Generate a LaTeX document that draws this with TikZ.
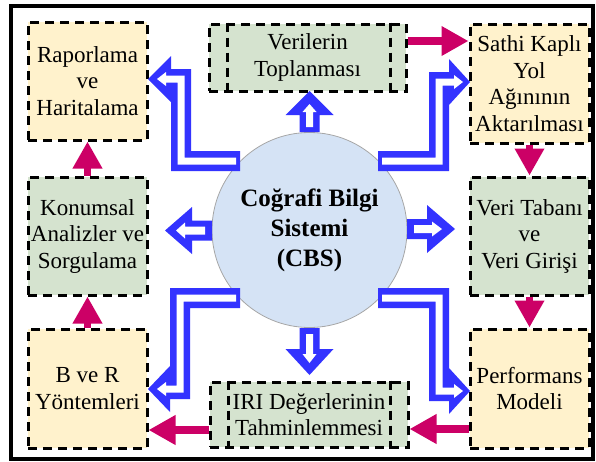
\documentclass[tikz,border=0pt]{standalone}
\usepackage{fontspec}
\setmainfont{Liberation Serif}
\usetikzlibrary{arrows.meta,calc}
\definecolor{boxorange}{HTML}{FFF2CC}
\definecolor{boxgreen}{HTML}{D5E3CF}
\definecolor{circblue}{HTML}{D5E3F5}
\definecolor{arrblue}{HTML}{3333FF}
\definecolor{arrred}{HTML}{CC0066}
\begin{document}
\begin{tikzpicture}[x=1pt,y=-1pt,
  dline/.style={draw=black, line width=3pt, dash pattern=on 9pt off 6pt},
  dbox/.style={dline, inner sep=0pt, align=center, font=\fontsize{23}{26.5}\selectfont},
  obox/.style={dbox, fill=boxorange, minimum width=119pt, minimum height=118pt},
  gbox/.style={dbox, fill=boxgreen, minimum width=119pt, minimum height=118pt},
  wbox/.style={dbox, fill=boxgreen, minimum width=197pt, minimum height=66pt},
  bouter/.style={fill=arrblue},
  binner/.style={fill=white},
  rarrow/.style={draw=arrred, line width=7.5pt, -{Triangle[length=27pt,width=28pt]}},
]
\useasboundingbox (0,0) rectangle (596,461);
\draw[line width=4pt] (11.3,6) rectangle (592.5,458.5);

% central circle
\node[circle, fill=circblue, draw=gray!70, line width=0.8pt, minimum size=195pt, inner sep=0pt,
      align=center, font=\bfseries\fontsize{25}{30}\selectfont] (cbs) at (309.5,230)
      {Coğrafi Bilgi\\Sistemi\\(CBS)};

% boxes
\node[obox] (rap) at (87.5,81) {Raporlama\\ve\\Haritalama};
\node[gbox] (kon) at (87.5,236) {Konumsal\\Analizler ve\\Sorgulama};
\node[obox, minimum height=119pt] (bvr) at (87.5,388.5) {B ve R\\Yöntemleri};
\node[obox, minimum height=119pt] (sat) at (529.5,83.5) {Sathi Kaplı\\Yol\\Ağınının\\Aktarılması};
\node[gbox] (vtb) at (529.5,236) {Veri Tabanı\\ve\\Veri Girişi};
\node[obox, minimum height=119pt] (per) at (529.5,388.5) {Performans\\Modeli};
\node[wbox, minimum height=67pt] (ver) at (307.5,57.5) {Verilerin\\Toplanması};
\node[wbox, minimum width=198pt, minimum height=65pt] (iri) at (309,414.5) {IRI Değerlerinin\\Tahminlemmesi};
\draw[dline] ($(ver.north west)+(20,0)$) -- ($(ver.south west)+(20,0)$);
\draw[dline] ($(ver.north east)+(-17,0)$) -- ($(ver.south east)+(-17,0)$);
\draw[dline] ($(iri.north west)+(20,0)$) -- ($(iri.south west)+(20,0)$);
\draw[dline] ($(iri.north east)+(-19,0)$) -- ($(iri.south east)+(-19,0)$);

% blue block arrows from the centre (blue body, white inner arrow)
% to Raporlama ve Haritalama
\fill[bouter] (240,151) -- (191,151) -- (191,69) -- (171,69) -- (171,56) -- (148,79)
  -- (171,102) -- (171,171) -- (240,171) -- cycle;
\fill[binner] (236,157.5) -- (184.5,157.5) -- (184.5,75.5) -- (166,75.5) -- (166,72) -- (157,79)
  -- (166,86) -- (166,82.5) -- (177.5,82.5) -- (177.5,164.5) -- (236,164.5) -- cycle;
% to Sathi Kapli Yol
\fill[bouter] (378,151) -- (429,151) -- (429,72) -- (449,72) -- (449,59) -- (470,82)
  -- (449,105) -- (449,171) -- (378,171) -- cycle;
\fill[binner] (382,157.5) -- (435.5,157.5) -- (435.5,78.5) -- (454,78.5) -- (454,75) -- (463,82)
  -- (454,89) -- (454,85.5) -- (442.5,85.5) -- (442.5,164.5) -- (382,164.5) -- cycle;
% to B ve R
\fill[bouter] (240,288) -- (170,288) -- (170,366) -- (148,389) -- (170,412) -- (170,399)
  -- (190,399) -- (190,308) -- (240,308) -- cycle;
\fill[binner] (236,294.5) -- (176.5,294.5) -- (176.5,385.5) -- (166,385.5) -- (166,382) -- (157,389)
  -- (166,396) -- (166,392.5) -- (183.5,392.5) -- (183.5,301.5) -- (236,301.5) -- cycle;
% to Performans
\fill[bouter] (378,288) -- (449,288) -- (449,368) -- (470,391) -- (449,414) -- (449,401)
  -- (429,401) -- (429,308) -- (378,308) -- cycle;
\fill[binner] (382,294.5) -- (442.5,294.5) -- (442.5,387.5) -- (454,387.5) -- (454,384) -- (463,391)
  -- (454,398) -- (454,394.5) -- (435.5,394.5) -- (435.5,301.5) -- (382,301.5) -- cycle;
% up
\fill[bouter] (299.5,132) -- (299.5,115) -- (285.5,115) -- (309.5,91) -- (333.5,115)
  -- (319.5,115) -- (319.5,132) -- cycle;
\fill[binner] (306,127) -- (306,112) -- (302.5,112) -- (309.5,104) -- (316.5,112)
  -- (313,112) -- (313,127) -- cycle;
% down
\fill[bouter] (299.5,328) -- (299.5,349) -- (285.5,349) -- (309.5,375) -- (333.5,349)
  -- (319.5,349) -- (319.5,328) -- cycle;
\fill[binner] (306,334) -- (306,354) -- (302.5,354) -- (309.5,363) -- (316.5,354)
  -- (313,354) -- (313,334) -- cycle;
% left
\fill[bouter] (212,220.5) -- (192,220.5) -- (192,207) -- (165,230.5) -- (192,254)
  -- (192,240.5) -- (212,240.5) -- cycle;
\fill[binner] (205,226.5) -- (185,226.5) -- (185,222.5) -- (176,230.5) -- (185,238.5)
  -- (185,234.5) -- (205,234.5) -- cycle;
% right
\fill[bouter] (407,219) -- (427,219) -- (427,205) -- (455,229) -- (427,253)
  -- (427,239) -- (407,239) -- cycle;
\fill[binner] (414,225) -- (432,225) -- (432,221.5) -- (442,229) -- (432,236.5)
  -- (432,233) -- (414,233) -- cycle;

% red process arrows
\draw[rarrow] (ver.east |- 0,41) -- (sat.west |- 0,41);
\draw[rarrow] (sat.south) -- (vtb.north);
\draw[rarrow] (vtb.south) -- (per.north);
\draw[rarrow] (per.west |- 0,429) -- (iri.east |- 0,429);
\draw[rarrow] (iri.west |- 0,430) -- (bvr.east |- 0,430);
\draw[rarrow] (bvr.north) -- (kon.south);
\draw[rarrow] (kon.north) -- (rap.south);
\end{tikzpicture}
\end{document}
